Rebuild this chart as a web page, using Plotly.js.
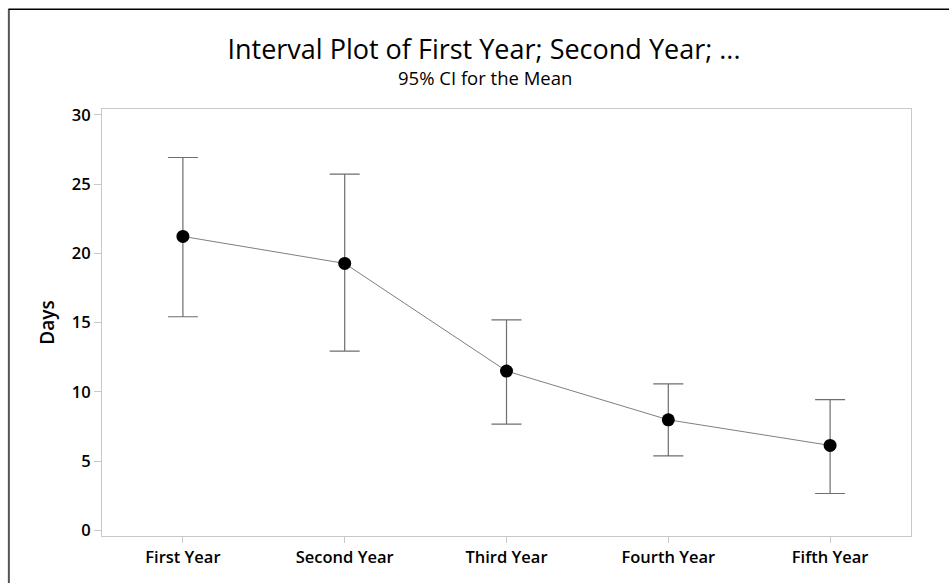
<!DOCTYPE html>
<html>
<head>
<meta charset="utf-8">
<script src="https://cdn.plot.ly/plotly-3.0.1.min.js"></script>
<style>
html,body{margin:0;padding:0;background:#fff;}
#chart{width:949px;height:583px;}
</style>
</head>
<body>
<div id="chart"></div>
<script>
const categories = ["First Year", "Second Year", "Third Year", "Fourth Year", "Fifth Year"];
const means = [21.23, 19.28, 11.51, 7.99, 6.14];
const upper = [26.93, 25.73, 15.21, 10.59, 9.44];
const lower = [15.43, 12.95, 7.68, 5.39, 2.67];
const yTicks = [0, 5, 10, 15, 20, 25, 30];

const errPlus = means.map((m, i) => upper[i] - m);
const errMinus = means.map((m, i) => m - lower[i]);

const FONT = "'Open Sans', 'Noto Sans', sans-serif";

const L = 101.7, R = 911.3, T = 109.3, B = 536.3, W = 949, H = 583;
const px = x => (x - L) / (R - L);
const py = y => (B - y) / (B - T);

const trace = {
  type: "scatter",
  mode: "lines+markers",
  x: categories,
  y: means,
  line: {color: "#7f7f7f", width: 1},
  marker: {color: "#000000", size: 13},
  error_y: {
    type: "data",
    symmetric: false,
    array: errPlus,
    arrayminus: errMinus,
    color: "#6e6e6e",
    thickness: 1.2,
    width: 15
  },
  hoverinfo: "x+y"
};

const layout = {
  width: W,
  height: H,
  paper_bgcolor: "#ffffff",
  plot_bgcolor: "#ffffff",
  margin: {l: L, r: W - R, t: T, b: H - B, pad: 0},
  showlegend: false,
  title: {
    text: "Interval Plot of First Year; Second Year; ...",
    font: {family: FONT, size: 27, color: "#000000", weight: 400},
    xref: "container", x: 484 / W, xanchor: "center",
    yref: "container", y: 1 - 50 / H, yanchor: "middle"
  },
  annotations: [{
    text: "95% CI for the Mean",
    showarrow: false,
    xref: "paper", x: px(485), xanchor: "center",
    yref: "paper", y: py(78), yanchor: "middle",
    font: {family: FONT, size: 18.5, color: "#000000", weight: 400}
  }],
  xaxis: {
    type: "category",
    range: [-0.5, 4.5],
    showline: true, mirror: true, linecolor: "#c8c8c8", linewidth: 1,
    showgrid: false, zeroline: false,
    ticks: "outside", ticklen: 6, tickcolor: "#c8c8c8", tickwidth: 1,
    tickfont: {family: FONT, size: 16.5, color: "#000000", weight: 600},
    fixedrange: true
  },
  yaxis: {
    range: [-0.4, 30.43],
    tickvals: yTicks,
    ticktext: yTicks.map(String),
    showline: true, mirror: true, linecolor: "#c8c8c8", linewidth: 1,
    showgrid: false, zeroline: false,
    ticks: "outside", ticklen: 7, tickcolor: "#c8c8c8", tickwidth: 1,
    tickfont: {family: FONT, size: 16.5, color: "#000000", weight: 600},
    title: {text: "Days", font: {family: FONT, size: 19, color: "#000000", weight: 600}, standoff: 12},
    fixedrange: true
  },
  shapes: [
    {type: "line", xref: "paper", yref: "paper", x0: px(8.5), x1: px(8.5), y0: py(9.5), y1: py(590),
     line: {color: "#555555", width: 2}},
    {type: "line", xref: "paper", yref: "paper", x0: px(8), x1: px(960), y0: py(9.5), y1: py(9.5),
     line: {color: "#000000", width: 1.5}}
  ]
};

Plotly.newPlot("chart", [trace], layout, {displayModeBar: false, staticPlot: true});
</script>
</body>
</html>
